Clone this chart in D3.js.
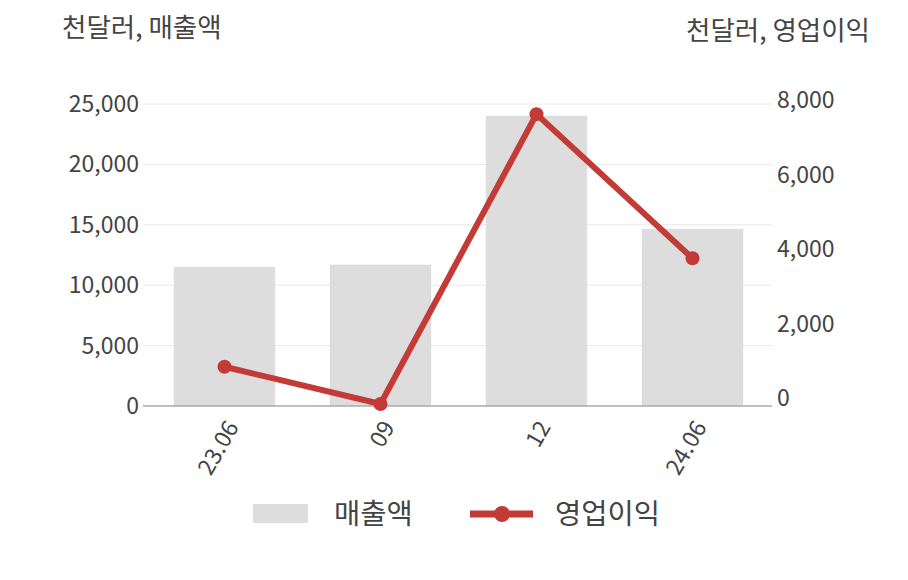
<!DOCTYPE html>
<html><head><meta charset="utf-8">
<script src="https://cdn.jsdelivr.net/npm/d3@7"></script>
<style>
html,body{margin:0;padding:0;background:#fff;}
svg text{font-family:"Noto Sans CJK KR","Noto Sans",sans-serif;fill:#444;}
</style></head>
<body>
<svg id="chart" width="908" height="580"></svg>
<script>
const categories = ["23.06", "09", "12", "24.06"];
const sales = [11500, 11700, 24030, 14650];          // 매출액 (천달러)
const opIncome = [840, -160, 7620, 3750];             // 영업이익 (천달러)
const leftTicks = [0, 5000, 10000, 15000, 20000, 25000];
const rightTicks = [0, 2000, 4000, 6000, 8000];
const leftTitle = "천달러, 매출액";
const rightTitle = "천달러, 영업이익";
const seriesNames = ["매출액", "영업이익"];

const svg = d3.select("#chart");
const barColor = "#dddddd", lineColor = "#c43a37";
const fmt = d3.format(",");

const x = d3.scaleBand().domain(categories).range([146.5, 770.5]).paddingInner(0.35).paddingOuter(0.175);
const yL = d3.scaleLinear().domain([0, 25000]).range([406, 104]);
const yR = d3.scaleLinear().domain([0, 8000]).range([398, 100]);

// gridlines
svg.append("g").selectAll("line").data(leftTicks.filter(d => d > 0)).join("line")
  .attr("x1", 143).attr("x2", 772)
  .attr("y1", d => yL(d)).attr("y2", d => yL(d))
  .attr("stroke", "#e8e8e8").attr("stroke-width", 1);

// bars
svg.append("g").selectAll("rect").data(sales).join("rect")
  .attr("x", (d, i) => x(categories[i]))
  .attr("width", x.bandwidth())
  .attr("y", d => yL(d))
  .attr("height", d => yL(0) - yL(d))
  .attr("fill", barColor);

// baseline
svg.append("line").attr("x1", 143).attr("x2", 772).attr("y1", yL(0)).attr("y2", yL(0))
  .attr("stroke", "#aaaaaa").attr("stroke-width", 1.5);

// left axis labels
svg.append("g").selectAll("text").data(leftTicks).join("text")
  .attr("x", 139).attr("y", d => yL(d)).attr("dy", "0.35em")
  .attr("text-anchor", "end").attr("font-size", 23)
  .text(d => fmt(d));

// right axis labels
svg.append("g").selectAll("text").data(rightTicks).join("text")
  .attr("x", 777).attr("y", d => yR(d)).attr("dy", "0.35em")
  .attr("text-anchor", "start").attr("font-size", 23)
  .text(d => fmt(d));

// x labels
svg.append("g").selectAll("text").data(categories).join("text")
  .attr("transform", d => `translate(${x(d) + x.bandwidth() / 2 + 15},427) rotate(-60)`)
  .attr("text-anchor", "end").attr("font-size", 23)
  .text(d => d);

// titles
svg.append("text").attr("x", 62).attr("y", 28).attr("dy", "0.35em").attr("font-size", 26.5).text(leftTitle);
svg.append("text").attr("x", 870).attr("y", 31).attr("dy", "0.35em").attr("text-anchor", "end").attr("font-size", 26.5).text(rightTitle);

// line
const cx = i => x(categories[i]) + x.bandwidth() / 2;
const line = d3.line().x((d, i) => cx(i)).y(d => yR(d));
svg.append("path").datum(opIncome).attr("d", line)
  .attr("fill", "none").attr("stroke", lineColor).attr("stroke-width", 6)
  .attr("stroke-linejoin", "round");
svg.append("g").selectAll("circle").data(opIncome).join("circle")
  .attr("cx", (d, i) => cx(i)).attr("cy", d => yR(d)).attr("r", 7)
  .attr("fill", lineColor);

// legend
const lg = svg.append("g");
lg.append("rect").attr("x", 253).attr("y", 504).attr("width", 55).attr("height", 19).attr("fill", barColor);
lg.append("text").attr("x", 334).attr("y", 514).attr("dy", "0.35em").attr("font-size", 28.5).text(seriesNames[0]);
lg.append("line").attr("x1", 470).attr("x2", 533).attr("y1", 514).attr("y2", 514)
  .attr("stroke", lineColor).attr("stroke-width", 7);
lg.append("circle").attr("cx", 502).attr("cy", 514).attr("r", 8).attr("fill", lineColor);
lg.append("text").attr("x", 555).attr("y", 514).attr("dy", "0.35em").attr("font-size", 28.5).text(seriesNames[1]);
</script>
</body></html>
